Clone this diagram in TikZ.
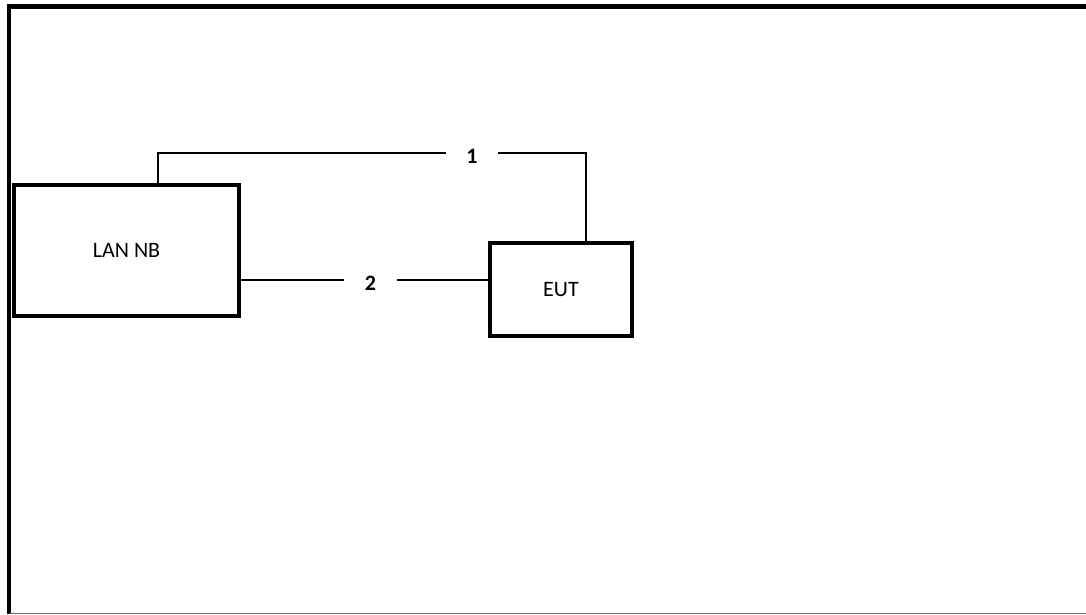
\documentclass[tikz,border=0pt]{standalone}
\usepackage{fontspec}
\setmainfont{Carlito}
\begin{document}
\begin{tikzpicture}[x=1pt,y=-1pt,
  devbox/.style={draw,line width=4.5pt,inner sep=0pt,outer sep=0pt,font=\fontsize{22}{26}\selectfont},
  cablelabel/.style={inner sep=0pt,outer sep=0pt,font=\fontsize{22}{26}\selectfont\bfseries},
  cable/.style={line width=2.6pt}]
\useasboundingbox (0,0) rectangle (1086,614);
% outer frame (partly outside the page)
\draw[line width=4.6pt] (9,614) -- (9,6.5) -- (1090,6.5);
\draw[line width=1.5pt,black!60] (9,613.3) -- (1090,613.3);
% devices
\node[devbox,minimum width=225pt,minimum height=131pt] (lan) at (126.5,250.5) {LAN NB};
\node[devbox,minimum width=142pt,minimum height=93pt] (eut) at (561,289.5) {EUT};
% cable labels
\node[cablelabel,minimum width=52pt] (one) at (472,156) {1};
\node[cablelabel,minimum width=53pt] (two) at (370.5,283) {2};
% cable 1
\coordinate (c1a) at (158,153);
\coordinate (c1b) at (586,153);
\draw[cable] (c1a |- lan.north) -- (c1a) -- (one.west |- c1a);
\draw[cable] (one.east |- c1b) -- (c1b) -- (c1b |- eut.north);
% cable 2
\coordinate (r2) at (0,280);
\draw[cable] (lan.east |- r2) -- (two.west |- r2);
\draw[cable] (two.east |- r2) -- (eut.west |- r2);
\end{tikzpicture}
\end{document}
